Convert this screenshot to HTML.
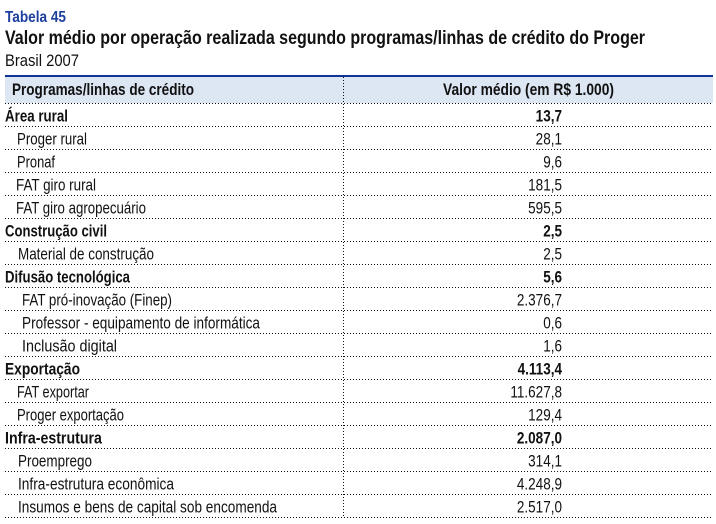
<!DOCTYPE html>
<html><head><meta charset="utf-8">
<style>
html,body{margin:0;padding:0;background:#fff;}
svg{display:block;}
text{font-family:"Liberation Sans",sans-serif;fill:#111;}
.b{font-weight:bold;}
</style></head>
<body>
<svg width="716" height="524" viewBox="0 0 716 524" xmlns="http://www.w3.org/2000/svg">
<text x="5" y="22" class="b" font-size="16" style="fill:#1d3f9e" textLength="61" lengthAdjust="spacingAndGlyphs">Tabela 45</text>
<text x="5" y="44" class="b" font-size="19" textLength="640" lengthAdjust="spacingAndGlyphs">Valor médio por operação realizada segundo programas/linhas de crédito do Proger</text>
<text x="5" y="66" font-size="16.5" textLength="74" lengthAdjust="spacingAndGlyphs">Brasil 2007</text>

<rect x="5" y="77" width="708" height="26" fill="#dce7f3"/>
<rect x="5" y="75" width="708" height="2" fill="#0d3596"/>
<text x="12" y="95" class="b" font-size="16.5" textLength="182" lengthAdjust="spacingAndGlyphs">Programas/linhas de crédito</text>
<text x="443" y="95" class="b" font-size="16.5" textLength="171" lengthAdjust="spacingAndGlyphs">Valor médio (em R$ 1.000)</text>

<g stroke="#111" stroke-width="1" stroke-dasharray="1 2">
<line x1="343.5" y1="77" x2="343.5" y2="518"/>
<line x1="5" y1="103.5" x2="713" y2="103.5"/>
<line x1="5" y1="126.5" x2="713" y2="126.5"/>
<line x1="5" y1="149.5" x2="713" y2="149.5"/>
<line x1="5" y1="172.5" x2="713" y2="172.5"/>
<line x1="5" y1="195.5" x2="713" y2="195.5"/>
<line x1="5" y1="218.5" x2="713" y2="218.5"/>
<line x1="5" y1="241.5" x2="713" y2="241.5"/>
<line x1="5" y1="264.5" x2="713" y2="264.5"/>
<line x1="5" y1="287.5" x2="713" y2="287.5"/>
<line x1="5" y1="310.5" x2="713" y2="310.5"/>
<line x1="5" y1="333.5" x2="713" y2="333.5"/>
<line x1="5" y1="356.5" x2="713" y2="356.5"/>
<line x1="5" y1="379.5" x2="713" y2="379.5"/>
<line x1="5" y1="402.5" x2="713" y2="402.5"/>
<line x1="5" y1="425.5" x2="713" y2="425.5"/>
<line x1="5" y1="448.5" x2="713" y2="448.5"/>
<line x1="5" y1="471.5" x2="713" y2="471.5"/>
<line x1="5" y1="494.5" x2="713" y2="494.5"/>
<line x1="5" y1="517.5" x2="713" y2="517.5"/>
</g>

<g font-size="16.5">
<text x="5" y="121.5" class="b" textLength="63" lengthAdjust="spacingAndGlyphs">Área rural</text>
<text x="17" y="144.5" textLength="70" lengthAdjust="spacingAndGlyphs">Proger rural</text>
<text x="17" y="167.5" textLength="38" lengthAdjust="spacingAndGlyphs">Pronaf</text>
<text x="16" y="190.5" textLength="80" lengthAdjust="spacingAndGlyphs">FAT giro rural</text>
<text x="16" y="213.5" textLength="130" lengthAdjust="spacingAndGlyphs">FAT giro agropecuário</text>
<text x="5" y="236.5" class="b" textLength="102" lengthAdjust="spacingAndGlyphs">Construção civil</text>
<text x="18" y="259.5" textLength="136" lengthAdjust="spacingAndGlyphs">Material de construção</text>
<text x="5" y="282.5" class="b" textLength="125" lengthAdjust="spacingAndGlyphs">Difusão tecnológica</text>
<text x="22" y="305.5" textLength="150" lengthAdjust="spacingAndGlyphs">FAT pró-inovação (Finep)</text>
<text x="22" y="328.5" textLength="238" lengthAdjust="spacingAndGlyphs">Professor - equipamento de informática</text>
<text x="22" y="351.5" textLength="95" lengthAdjust="spacingAndGlyphs">Inclusão digital</text>
<text x="5" y="374.5" class="b" textLength="75" lengthAdjust="spacingAndGlyphs">Exportação</text>
<text x="17" y="397.5" textLength="72" lengthAdjust="spacingAndGlyphs">FAT exportar</text>
<text x="17" y="420.5" textLength="107" lengthAdjust="spacingAndGlyphs">Proger exportação</text>
<text transform="translate(5,443.5) scale(0.86,1)" class="b">Infra-estrutura</text>
<text x="18" y="466.5" textLength="74" lengthAdjust="spacingAndGlyphs">Proemprego</text>
<text x="18" y="489.5" textLength="156" lengthAdjust="spacingAndGlyphs">Infra-estrutura econômica</text>
<text x="18" y="512.5" textLength="259" lengthAdjust="spacingAndGlyphs">Insumos e bens de capital sob encomenda</text>
</g>

<g font-size="16.5" text-anchor="end">
<text transform="translate(562,121.5) scale(0.82,1)" class="b">13,7</text>
<text transform="translate(562,144.5) scale(0.82,1)">28,1</text>
<text transform="translate(562,167.5) scale(0.82,1)">9,6</text>
<text transform="translate(562,190.5) scale(0.82,1)">181,5</text>
<text transform="translate(562,213.5) scale(0.82,1)">595,5</text>
<text transform="translate(562,236.5) scale(0.82,1)" class="b">2,5</text>
<text transform="translate(562,259.5) scale(0.82,1)">2,5</text>
<text transform="translate(562,282.5) scale(0.82,1)" class="b">5,6</text>
<text transform="translate(562,305.5) scale(0.82,1)">2.376,7</text>
<text transform="translate(562,328.5) scale(0.82,1)">0,6</text>
<text transform="translate(562,351.5) scale(0.82,1)">1,6</text>
<text transform="translate(562,374.5) scale(0.82,1)" class="b">4.113,4</text>
<text transform="translate(562,397.5) scale(0.82,1)">11.627,8</text>
<text transform="translate(562,420.5) scale(0.82,1)">129,4</text>
<text transform="translate(562,443.5) scale(0.82,1)" class="b">2.087,0</text>
<text transform="translate(562,466.5) scale(0.82,1)">314,1</text>
<text transform="translate(562,489.5) scale(0.82,1)">4.248,9</text>
<text transform="translate(562,512.5) scale(0.82,1)">2.517,0</text>
</g>
</svg>
</body></html>
